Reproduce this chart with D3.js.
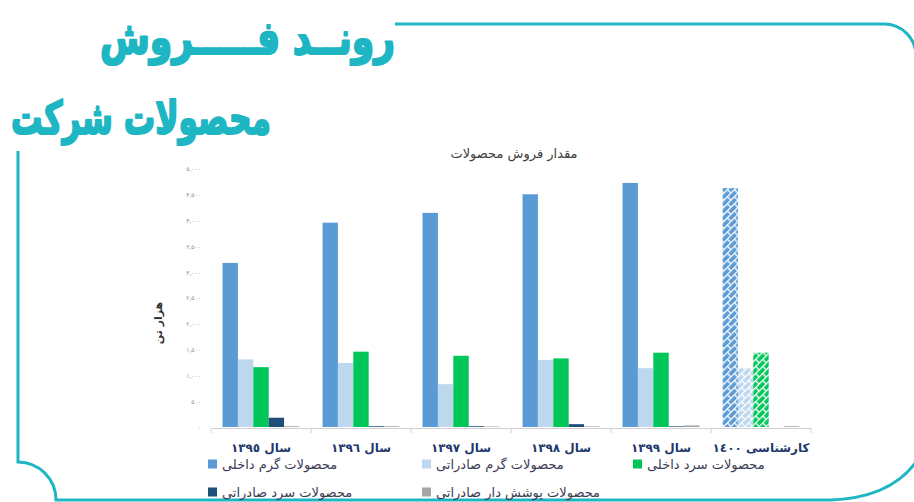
<!DOCTYPE html>
<html>
<head>
<meta charset="utf-8">
<script src="https://cdn.jsdelivr.net/npm/d3@7"></script>
<style>
  html, body { margin: 0; padding: 0; background: #fff; }
  svg { display: block; font-family: "DejaVu Sans", sans-serif; }
</style>
</head>
<body>
<svg id="chart" width="914" height="502"></svg>
<script>
// data (thousand tonnes)
const categories = ["سال ١٣٩٥", "سال ١٣٩٦", "سال ١٣٩٧", "سال ١٣٩٨", "سال ١٣٩٩", "کارشناسی ١٤٠٠"]
const hotDomestic = [3180, 3960, 4150, 4510, 4730, 4630]
const hotExport = [1310, 1240, 830, 1300, 1140, 1140]
const coldDomestic = [1160, 1460, 1380, 1330, 1440, 1440]
const coldExport = [180, 15, 15, 55, 12, 0]
const coatedExport = [15, 15, 10, 12, 30, 15]
const forecast = [false, false, false, false, false, true]

const seriesNames = [
  "محصولات گرم داخلی",
  "محصولات گرم صادراتی",
  "محصولات سرد داخلی",
  "محصولات سرد صادراتی",
  "محصولات پوشش دار صادراتی"
]
const seriesColors = ["#5b9bd5", "#bdd7ee", "#00c65a", "#1f4e79", "#a5a5a5"]
const seriesValues = [hotDomestic, hotExport, coldDomestic, coldExport, coatedExport]

const tickValues = [0, 500, 1000, 1500, 2000, 2500, 3000, 3500, 4000, 4500, 5000]
const tickLabels = ["۰", "۵۰۰", "۱,۰۰۰", "۱,۵۰۰", "۲,۰۰۰", "۲,۵۰۰", "۳,۰۰۰", "۳,۵۰۰", "۴,۰۰۰", "۴,۵۰۰", "۵,۰۰۰"]

const teal = "#1fb6c4"
const svg = d3.select("#chart")

// brick-like hatch for the forecast year
const defs = svg.append("defs")
seriesColors.forEach((c, i) => {
  const p = defs.append("pattern")
    .attr("id", "hatch-" + i)
    .attr("patternUnits", "userSpaceOnUse")
    .attr("width", 10).attr("height", 10)
    .attr("patternTransform", "rotate(-45)")
  p.append("rect").attr("width", 10).attr("height", 10).attr("fill", c)
  p.append("path")
    .attr("d", "M0,0.6H10 M0,5.6H10 M2.5,0.6V5.6 M7.5,5.6V10.6")
    .attr("stroke", "#fff").attr("stroke-width", 1.3).attr("fill", "none")
})

// frame
svg.append("path")
  .attr("d", "M18,151 V462 A38,38 0 0 1 56,500 H830 Q890,498 916,462")
  .attr("fill", "none").attr("stroke", teal).attr("stroke-width", 3)
svg.append("path")
  .attr("d", "M395,24 H884 A32,32 0 0 1 916,56")
  .attr("fill", "none").attr("stroke", teal).attr("stroke-width", 3)

// headings
svg.append("text")
  .attr("x", 100).attr("y", 54)
  .attr("textLength", 295).attr("lengthAdjust", "spacingAndGlyphs")
  .attr("font-size", 46).attr("font-weight", "bold").attr("fill", teal)
  .attr("stroke", teal).attr("stroke-width", 2.2).attr("stroke-linejoin", "round")
  .text("رونــد فـــــروش")
svg.append("text")
  .attr("x", 11).attr("y", 134)
  .attr("textLength", 260).attr("lengthAdjust", "spacingAndGlyphs")
  .attr("font-size", 46).attr("font-weight", "bold").attr("fill", teal)
  .attr("stroke", teal).attr("stroke-width", 2.2).attr("stroke-linejoin", "round")
  .text("محصولات شرکت")

// scales
const x = d3.scaleBand().domain(categories).range([211, 811]).padding(0)
const xs = d3.scaleBand().domain(d3.range(seriesNames.length)).range([0, x.bandwidth()]).paddingInner(0).paddingOuter(0.75)
const y = d3.scaleLinear().domain([0, 5000]).range([427, 169])

svg.append("text")
  .attr("x", 514).attr("y", 158)
  .attr("text-anchor", "middle").attr("font-size", 13).attr("fill", "#404040")
  .text("مقدار فروش محصولات")

// y axis (labels only)
const yAxis = d3.axisLeft(y).tickValues(tickValues).tickFormat((d, i) => tickLabels[i]).tickSize(0).tickPadding(0)
const gy = svg.append("g").attr("transform", "translate(201,0)").call(yAxis)
gy.select(".domain").remove()
gy.selectAll("text").attr("font-size", 6).attr("fill", "#8c8c8c").attr("font-family", "DejaVu Sans")

svg.append("text")
  .attr("transform", "translate(162,323) rotate(-90)")
  .attr("text-anchor", "middle").attr("font-size", 11).attr("font-weight", "bold").attr("fill", "#333")
  .text("هزار تن")

// bars
const groups = svg.selectAll("g.cat")
  .data(categories)
  .enter().append("g")
  .attr("class", "cat")
  .attr("transform", d => `translate(${x(d)},0)`)

groups.selectAll("rect")
  .data((d, ci) => seriesValues.map((vals, si) => ({ si, v: vals[ci], hatch: forecast[ci] })))
  .enter().append("rect")
  .attr("x", d => xs(d.si))
  .attr("width", xs.bandwidth())
  .attr("y", d => y(d.v))
  .attr("height", d => y(0) - y(d.v))
  // very thin bars show no hatch, just the colour
  .attr("fill", d => d.hatch && d.v > 200 ? `url(#hatch-${d.si})` : seriesColors[d.si])

// x axis
const xAxis = d3.axisBottom(x).tickSize(0).tickFormat("")
const gx = svg.append("g").attr("transform", "translate(0,428)").call(xAxis)
gx.select(".domain").attr("stroke", "#d0d0d0")
gx.selectAll(".tick").remove()
svg.selectAll("line.sep")
  .data(categories.concat([null]))
  .enter().append("line")
  .attr("class", "sep")
  .attr("x1", (d, i) => i < categories.length ? x(d) : x.range()[1])
  .attr("x2", (d, i) => i < categories.length ? x(d) : x.range()[1])
  .attr("y1", 428).attr("y2", 433)
  .attr("stroke", "#d0d0d0")

svg.selectAll("text.cat")
  .data(categories)
  .enter().append("text")
  .attr("class", "cat")
  .attr("x", d => x(d) + x.bandwidth() / 2)
  .attr("y", 452)
  .attr("text-anchor", "middle").attr("font-size", 12).attr("font-weight", "bold").attr("fill", "#1f3a6e")
  .text(d => d)

// legend
const legendX = [208, 422, 633]
const legendY = [464, 492]
const leg = svg.selectAll("g.leg")
  .data(seriesNames)
  .enter().append("g")
  .attr("class", "leg")
  .attr("transform", (d, i) => `translate(${legendX[i % 3]},${legendY[Math.floor(i / 3)]})`)
leg.append("rect")
  .attr("x", 0).attr("y", -4.5).attr("width", 9).attr("height", 9)
  .attr("fill", (d, i) => seriesColors[i])
leg.append("text")
  .attr("x", 14).attr("y", 5)
  .attr("font-size", 13).attr("fill", "#3b3b55")
  .text(d => d)
</script>
</body>
</html>
